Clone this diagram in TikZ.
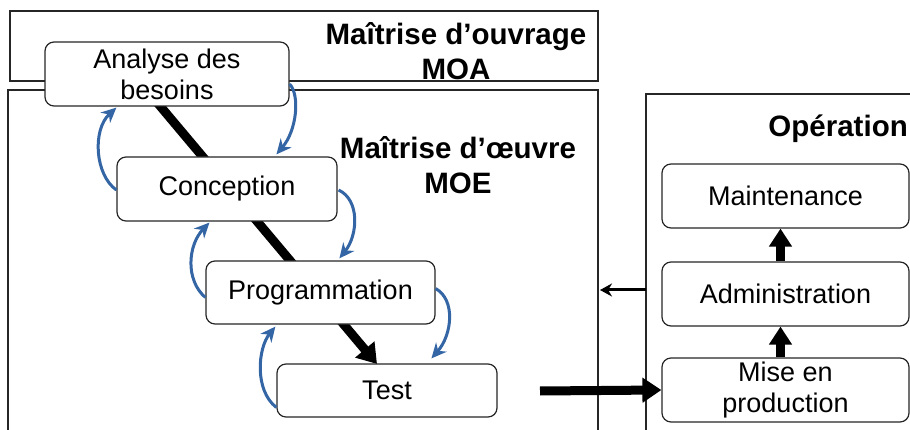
\documentclass[tikz,border=0pt]{standalone}
\usepackage{fontspec}
\setmainfont{Liberation Sans}
\usetikzlibrary{arrows.meta,calc}
\definecolor{cblue}{HTML}{3465A4}
\begin{document}
\begin{tikzpicture}[x=1pt,y=-1pt,
  frame/.style={draw=black!85,line width=1.2pt},
  box/.style={draw=black!85,line width=1.2pt,fill=white,rounded corners=9pt,inner sep=0pt,
    font=\fontsize{27}{31}\selectfont,align=center},
  title/.style={font=\fontsize{29.5}{35}\selectfont\bfseries,align=center,inner sep=0pt},
  loop/.style={draw=cblue,line width=3pt,-{Stealth[length=15pt,width=14pt]}},
  big/.style={line width=9pt,-{Triangle[length=19pt,width=24pt]}},
  upar/.style={line width=9pt,-{Triangle[length=18pt,width=22pt]}},
  thin/.style={line width=3pt,-{Stealth[length=12pt,width=13pt]}}]
\useasboundingbox (0,0) rectangle (910,430);
% frames
\draw[frame] (10,11) rectangle (598,81);
\draw[frame] (8,440) -- (8,90) -- (598,90) -- (598,440);
\draw[frame] (646,440) -- (646,94) -- (920,94);
% titles
\node[title] (moa) at (456,51) {Maîtrise d’ouvrage\\MOA};
\node[title] (moe) at (458,165) {Maîtrise d’œuvre\\MOE};
\node[title,anchor=east] (ope) at (908,129) {Opération};
% main diagonal (behind boxes)
\coordinate (dstart) at (150,94);
\coordinate (dend) at (377,364);
\draw[big] (dstart) -- (dend);
% boxes
\node[box,minimum width=244pt,minimum height=64pt] (ana) at (167,74) {Analyse des\\besoins};
\node[box,minimum width=220pt,minimum height=64pt] (conc) at (227,189) {Conception};
\node[box,minimum width=229pt,minimum height=63pt] (prog) at (320.5,292.5) {Programmation};
\node[box,minimum width=220pt,minimum height=53pt] (test) at (387,390.5) {Test};
\node[box,minimum width=247pt,minimum height=64pt] (maint) at (785.5,196) {Maintenance};
\node[box,minimum width=247pt,minimum height=64pt] (adm) at (785.5,294) {Administration};
\node[box,minimum width=247pt,minimum height=64pt] (mise) at (785.5,390) {Mise en\\production};
% blue feedback loops
\draw[loop] ($(conc.west)+(0,1)$) .. controls (95,175) and (92,130) .. ($(ana.south west)+(72,1)$);
\draw[loop] ($(ana.east)+(0,10)$) .. controls (300,95) and (297,130) .. ($(conc.north west)+(160,-2)$);
\draw[loop] ($(prog.west)+(0,5)$) .. controls (185,280) and (188,245) .. ($(conc.south west)+(93,1)$);
\draw[loop] ($(conc.east)+(1,1)$) .. controls (360,200) and (358,235) .. ($(prog.north west)+(134,-2)$);
\draw[loop] ($(test.west)+(0,17)$) .. controls (254,390) and (258,348) .. ($(prog.south west)+(70,2)$);
\draw[loop] ($(prog.east)+(0,-4)$) .. controls (456,300) and (452,335) .. ($(test.north west)+(155,-5)$);
% arrows between columns
\coordinate (bigs) at (540,391);
\draw[big] (bigs) -- (mise.west);
\coordinate (thins) at (646,290);
\coordinate (thine) at (600,290);
\draw[thin] (thins) -- (thine);
\draw[upar] ($(mise.north)+(-5,0)$) -- ($(adm.south)+(-5,0)$);
\draw[upar] ($(adm.north)+(-5,0)$) -- ($(maint.south)+(-5,0)$);
\end{tikzpicture}
\end{document}
